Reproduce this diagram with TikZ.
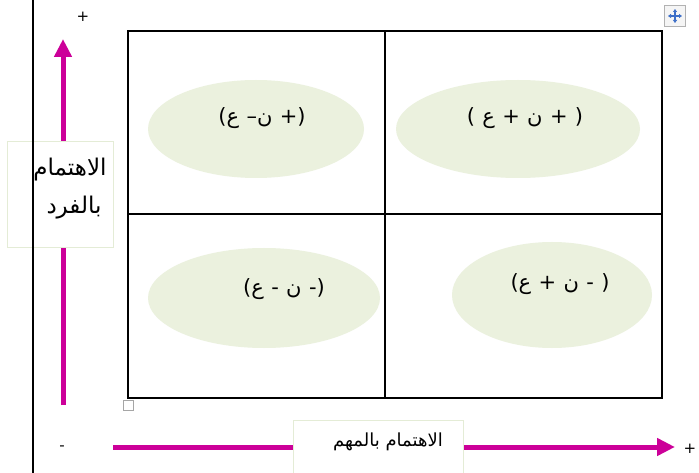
\documentclass[tikz,border=0pt]{standalone}
\usepackage{fontspec}
\setmainfont{DejaVu Sans}
\newfontfamily\arabicfont[Script=Arabic]{DejaVu Sans}
\TeXXeTstate=1
\usetikzlibrary{arrows.meta,shapes.geometric}
\definecolor{mag}{RGB}{204,0,153}
\definecolor{ellfill}{RGB}{235,241,222}
\definecolor{boxedge}{RGB}{228,236,214}
\definecolor{iconblue}{RGB}{60,110,200}
\newcommand\arl[1]{\mbox{\arabicfont #1}}
\newcommand\gapsp{\hspace{0.35em}}
\begin{document}
\begin{tikzpicture}[x=1pt,y=-1pt,
  ell/.style={ellipse, fill=ellfill, draw=none, inner sep=0pt},
  elltext/.style={font=\fontsize{21}{25}\selectfont, inner sep=0pt},
  axlabelA/.style={font=\arabicfont\fontsize{23}{27}\selectfont, inner sep=0pt},
  axlabelB/.style={font=\arabicfont\fontsize{18}{22}\selectfont, inner sep=0pt},
  labbox/.style={draw=boxedge, fill=white, line width=1pt, inner sep=0pt},
  axarrow/.style={mag, line width=5pt, -{Triangle[length=18pt,width=17pt]}},
  grid/.style={black, line width=1.5pt},
  sign/.style={font=\fontsize{15}{17}\selectfont, inner sep=0pt}
]
\useasboundingbox (0,0) rectangle (699,473);
\fill[white] (0,0) rectangle (699,473);

% quadrant ellipses
\node[ell, minimum width=216pt, minimum height=98pt] (e1) at (256,129) {};
\node[ell, minimum width=244pt, minimum height=98pt] (e2) at (518,129) {};
\node[ell, minimum width=232pt, minimum height=100pt] (e3) at (264,298) {};
\node[ell, minimum width=200pt, minimum height=106pt] (e4) at (552,295) {};

\node[elltext] (t1) at (262,118) {(\arl{ع}\gapsp–\arl{ن}\gapsp+)};
\node[elltext] (t2) at (525,118) {(\gapsp\arl{ع}\gapsp+\gapsp\arl{ن}\gapsp+\gapsp)};
\node[elltext] (t3) at (284,289) {(\arl{ع}\gapsp-\gapsp\arl{ن}\gapsp-)};
\node[elltext] (t4) at (560,284) {(\arl{ع}\gapsp+\gapsp\arl{ن}\gapsp-\gapsp)};

% grid
\coordinate (g1) at (128,31);
\coordinate (g2) at (662,398);
\draw[grid] (g1) rectangle (g2);
\coordinate (vt) at (385,31);
\coordinate (vb) at (385,398);
\coordinate (hl) at (128,214);
\coordinate (hr) at (662,214);
\draw[grid] (vt) -- (vb);
\draw[grid] (hl) -- (hr);

% axes
\coordinate (ya) at (63,405);
\coordinate (yb) at (63,39);
\draw[axarrow] (ya) -- (yb);
\coordinate (xa) at (113,447);
\coordinate (xb) at (675,447);
\draw[axarrow] (xa) -- (xb);

% label boxes
\node[labbox, minimum width=106pt, minimum height=106pt] (lb1) at (60,195) {};
\node[axlabelA] (l1a) at (70,170) {\beginR الاهتمام\endR};
\node[axlabelA] (l1b) at (74,208) {\beginR بالفرد\endR};
\node[labbox, minimum width=170pt, minimum height=64pt] (lb2) at (378,452) {};
\node[axlabelB] (l2) at (388,442) {\beginR الاهتمام بالمهم\endR};

% left black line
\coordinate (bl1) at (33,0);
\coordinate (bl2) at (33,473);
\draw[black, line width=2pt] (bl1) -- (bl2);

% signs
\node[sign] (s1) at (83,17) {+};
\node[sign] (s2) at (62,448) {-};
\node[sign] (s3) at (690,449) {+};

% handles
\node[draw=gray!70, fill=white, line width=1pt, minimum size=10pt, inner sep=0pt] (h1) at (128.5,405.5) {};
\node[draw=gray!60, fill=gray!8, line width=1pt, minimum size=21pt, inner sep=0pt] (h2) at (675,16) {};
\draw[iconblue, line width=1.2pt, {Triangle[length=3pt,width=4pt]}-{Triangle[length=3pt,width=4pt]}] ([xshift=-7pt]h2.center) -- ([xshift=7pt]h2.center);
\draw[iconblue, line width=1.2pt, {Triangle[length=3pt,width=4pt]}-{Triangle[length=3pt,width=4pt]}] ([yshift=-7pt]h2.center) -- ([yshift=7pt]h2.center);
\end{tikzpicture}
\end{document}
